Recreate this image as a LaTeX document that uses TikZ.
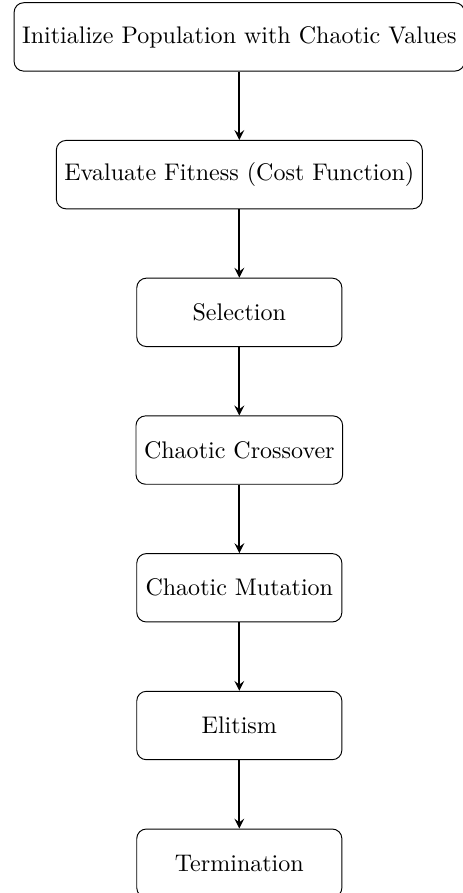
\documentclass[tikz,border=0pt]{standalone}
\usepackage{tikz}
\usetikzlibrary{arrows, positioning}

\begin{document}
\begin{tikzpicture}[
    node distance=1cm,
    box/.style={draw, rectangle, rounded corners, minimum width=3cm, minimum height=1cm, align=center},
    arrow/.style={thick, ->, >=stealth}
]
\useasboundingbox (-3.50,-12.52) rectangle (3.27,0.54);
\node (init) [box] at (0,0) {Initialize Population with Chaotic Values};
\node (eval) [box, below=of init] {Evaluate Fitness (Cost Function)};
\node (select) [box, below=of eval] {Selection};
\node (cross) [box, below=of select] {Chaotic Crossover};
\node (mutate) [box, below=of cross] {Chaotic Mutation};
\node (elite) [box, below=of mutate] {Elitism};
\node (term) [box, below=of elite] {Termination};

\draw [arrow] (init) -- (eval);
\draw [arrow] (eval) -- (select);
\draw [arrow] (select) -- (cross);
\draw [arrow] (cross) -- (mutate);
\draw [arrow] (mutate) -- (elite);
\draw [arrow] (elite) -- (term);

\end{tikzpicture}
\end{document}
